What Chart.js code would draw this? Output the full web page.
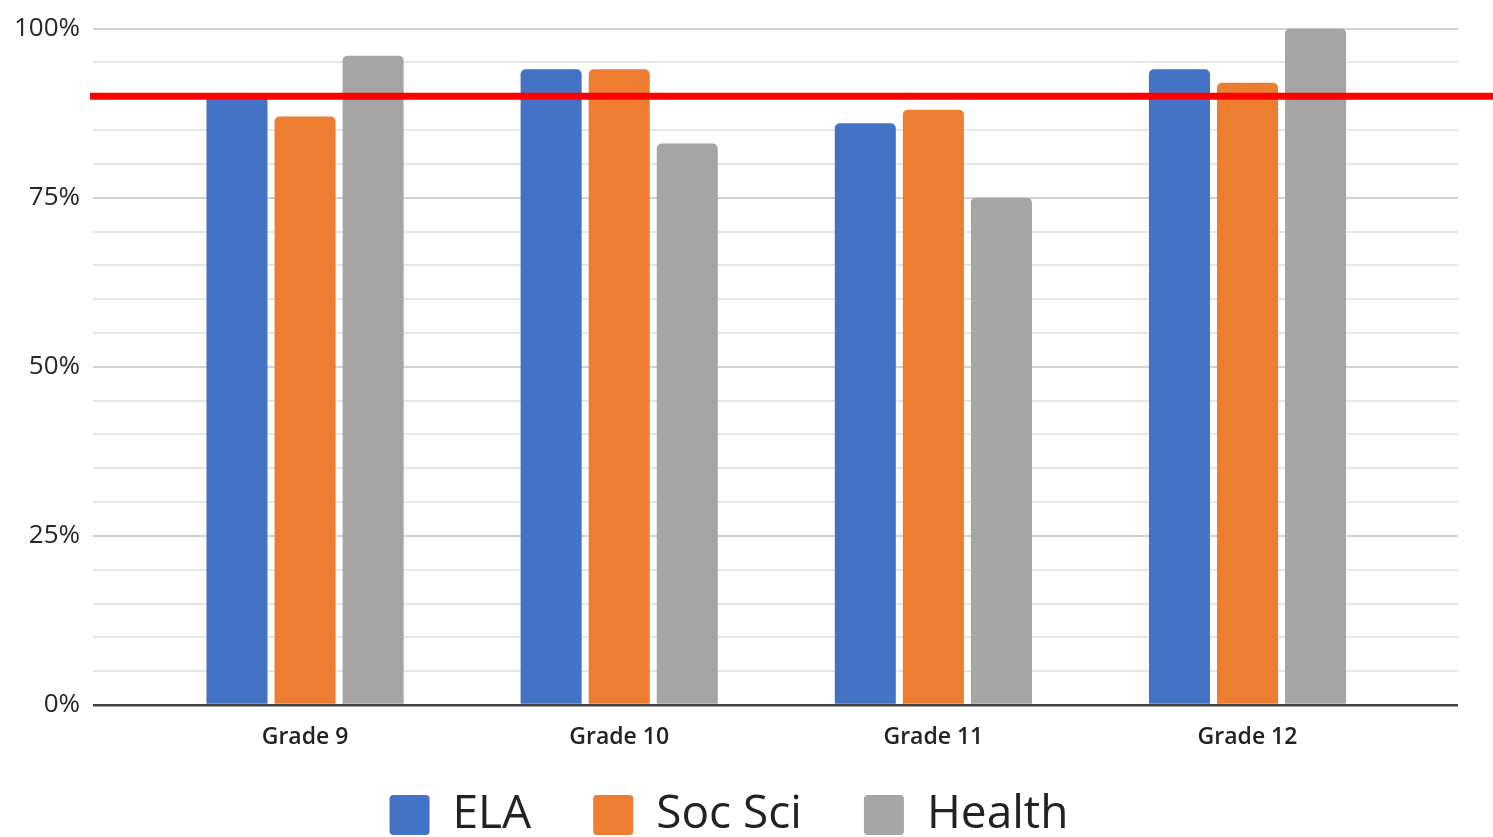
<!DOCTYPE html>
<html>
<head>
<meta charset="utf-8">
<script src="https://cdn.jsdelivr.net/npm/chart.js@4.4.1/dist/chart.umd.min.js"></script>
<style>
  html, body { margin: 0; padding: 0; background: #ffffff; }
  #wrap { width: 1493px; height: 837px; }
</style>
</head>
<body>
<div id="wrap"><canvas id="c" width="1493" height="837"></canvas></div>
<script>
// ---- data ----
const categories = ['Grade 9', 'Grade 10', 'Grade 11', 'Grade 12'];
const elaValues = [90, 94, 86, 94];
const socSciValues = [87, 94, 88, 92];
const healthValues = [96, 83, 75, 100];
const seriesNames = ['ELA', 'Soc Sci', 'Health'];
const yMajorTicks = [0, 25, 50, 75, 100];
const targetValue = 90;

// ---- styles ----
const seriesColors = ['#4472C4', '#ED7D31', '#A5A5A5'];
const FONT = "'Open Sans', 'Liberation Sans', sans-serif";

const toPoints = vals => vals.map((v, i) => ({ x: i, y: v }));
const allSeries = [elaValues, socSciValues, healthValues];

const targetLinePlugin = {
  id: 'targetLine',
  afterDatasetsDraw(chart) {
    const y = chart.scales.y.getPixelForValue(targetValue);
    const ctx = chart.ctx;
    ctx.save();
    ctx.strokeStyle = '#ff0000';
    ctx.lineWidth = 7;
    ctx.beginPath();
    ctx.moveTo(chart.chartArea.left - 3, y);
    ctx.lineTo(chart.width, y);
    ctx.stroke();
    ctx.restore();
  }
};

const legendPlacePlugin = {
  id: 'legendPlace',
  afterInit(chart) {
    const lg = chart.legend;
    if (!lg) return;
    const origFit = lg.fit.bind(lg);
    lg.fit = function () { origFit(); this.height = 82; };
  },
  afterLayout(chart) {
    const lg = chart.legend;
    if (!lg) return;
    const shift = 25;
    lg.top -= shift;
    lg.height = lg.bottom - lg.top;
    if (lg.adjustHitBoxes) lg.adjustHitBoxes();
  }
};

new Chart(document.getElementById('c'), {
  type: 'bar',
  data: {
    datasets: allSeries.map((vals, k) => ({
      label: seriesNames[k],
      data: toPoints(vals),
      backgroundColor: seriesColors[k],
      borderWidth: 0,
      borderRadius: 5,
      categoryPercentage: 0.65,
      barPercentage: 0.897
    }))
  },
  options: {
    responsive: false,
    animation: false,
    devicePixelRatio: 1,
    layout: { padding: { top: 27, right: 35, left: 0, bottom: 0 } },
    plugins: {
      tooltip: { enabled: false },
      legend: {
        position: 'bottom',
        labels: {
          boxWidth: 40,
          boxHeight: 40,
          padding: 62,
          useBorderRadius: true,
          borderRadius: 4,
          color: '#222222',
          font: { family: FONT, size: 46 }
        }
      }
    },
    scales: {
      x: {
        type: 'linear',
        offset: false,
        min: -0.675,
        max: 3.67,
        afterBuildTicks: s => { s.ticks = categories.map((_, i) => ({ value: i })); },
        afterFit: s => { s.height = 50; },
        grid: { display: false },
        border: { display: false },
        ticks: {
          autoSkip: false,
          maxRotation: 0,
          padding: 11,
          color: '#222222',
          font: { family: FONT, size: 23, weight: '600' },
          callback: v => (categories[v] !== undefined ? categories[v] : '')
        }
      },
      y: {
        min: 0,
        max: 100,
        afterFit: s => { s.width = 93; },
        border: { display: false },
        grid: {
          drawTicks: false,
          color: c => (c.tick.value === 0 ? '#404040' : (yMajorTicks.includes(c.tick.value) ? '#d2d2d2' : '#e6e6e6')),
          lineWidth: c => (c.tick.value === 0 ? 2.5 : 2)
        },
        ticks: {
          stepSize: 5,
          autoSkip: false,
          padding: 13,
          color: '#262626',
          font: { family: FONT, size: 26 },
          callback: v => (yMajorTicks.includes(v) ? v + '%' : '')
        }
      }
    }
  },
  plugins: [targetLinePlugin, legendPlacePlugin]
});
</script>
</body>
</html>
